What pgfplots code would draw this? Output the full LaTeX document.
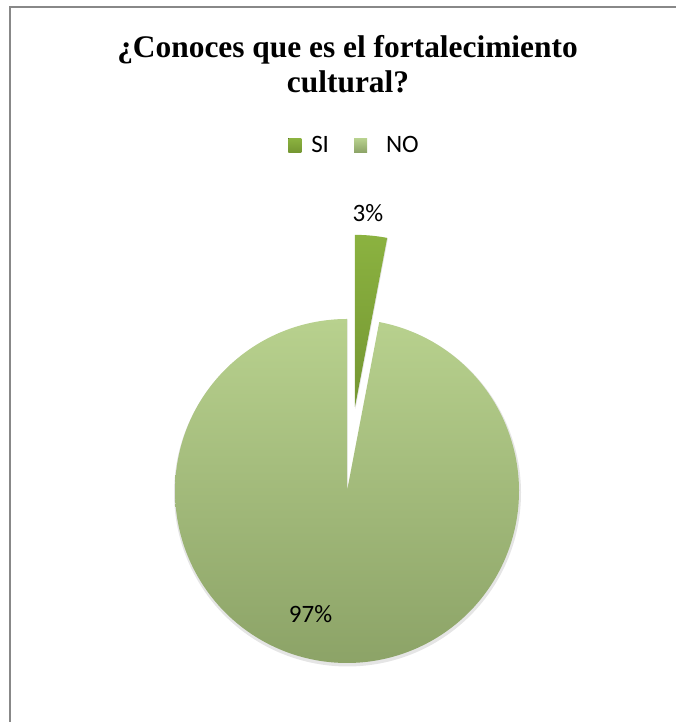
\documentclass[border=0pt]{standalone}
\usepackage{pgfplots}
\pgfplotsset{compat=1.18}
\usepackage{fontspec}
\setmainfont{Liberation Serif}
\newfontfamily\calibri{Carlito}
\definecolor{siTop}{RGB}{139,178,64}
\definecolor{siBot}{RGB}{116,150,50}
\definecolor{noTop}{RGB}{184,209,142}
\definecolor{noBot}{RGB}{140,163,103}
\definecolor{frameGray}{RGB}{136,136,136}
% data (percent)
\def\vSI{3}
\def\vNO{97}
\pgfmathsetmacro\aSI{3.6*\vSI}
\pgfmathsetmacro\aNO{3.6*\vNO}
\pgfmathsetmacro\cx{347}
\pgfmathsetmacro\cy{231}
\pgfmathsetmacro\rr{172}
\pgfmathsetmacro\ex{\cx+84.5*cos(90-\aSI/2)}
\pgfmathsetmacro\ey{\cy+84.5*sin(90-\aSI/2)}
\pgfmathsetmacro\siStart{90-\aSI}
\pgfmathsetmacro\noEnd{90+\aNO}
\begin{document}
\begin{tikzpicture}[x=1bp,y=1bp]
\useasboundingbox (0,0) rectangle (676,722);
\draw[line width=2bp, frameGray] (10,0) -- (10,714.5) -- (676,714.5);
\begin{axis}[
  at={(0,0)}, anchor=south west,
  scale only axis, width=676bp, height=722bp,
  xmin=0, xmax=676, ymin=0, ymax=722,
  hide axis, clip=false,
  legend columns=-1,
  legend style={at={(0.5244,0.7985)}, anchor=center, draw=none, fill=none,
    font=\calibri\fontsize{25bp}{30bp}\selectfont,
    /tikz/every odd column/.append style={column sep=8bp},
    /tikz/every even column/.append style={column sep=23bp}},
  legend image code/.code={\fill[#1] (0bp,-7bp) rectangle (13bp,7bp);},
]
% soft shadow
\addplot[forget plot, draw=none, fill=black, fill opacity=0.10, domain=\siStart:90, samples=20, variable=\t]
  ({\ex+0.5+(\rr+1.5)*cos(\t)},{\ey-2+(\rr+1.5)*sin(\t)}) -- (\ex+0.5,\ey-2) -- cycle;
\addplot[forget plot, draw=none, fill=black, fill opacity=0.10, domain=90:\noEnd, samples=240, variable=\t]
  ({\cx+0.5+(\rr+1.5)*cos(\t)},{\cy-2+(\rr+1.5)*sin(\t)}) -- (\cx+0.5,\cy-2) -- cycle;
% slices
\addplot[draw=none, top color=siTop, bottom color=siBot, domain=\siStart:90, samples=20, variable=\t]
  ({\ex+\rr*cos(\t)},{\ey+\rr*sin(\t)}) -- (\ex,\ey) -- cycle;
\addlegendentry{SI}
\addplot[draw=none, top color=noTop, bottom color=noBot, domain=90:\noEnd, samples=240, variable=\t]
  ({\cx+\rr*cos(\t)},{\cy+\rr*sin(\t)}) -- (\cx,\cy) -- cycle;
\addlegendentry{\hspace*{9bp}NO}
\node[anchor=base, inner sep=0] at (axis cs:347.5,664) {\bfseries\fontsize{31.4bp}{36bp}\selectfont ¿Conoces que es el fortalecimiento};
\node[anchor=base, inner sep=0] at (axis cs:348,629) {\bfseries\fontsize{31.4bp}{36bp}\selectfont cultural?};
\node[anchor=base, inner sep=0] at (axis cs:368,500) {\calibri\fontsize{25bp}{30bp}\selectfont 3\%};
\node[anchor=base, inner sep=0] at (axis cs:310.5,99) {\calibri\fontsize{25bp}{30bp}\selectfont 97\%};
\end{axis}
\end{tikzpicture}
\end{document}
